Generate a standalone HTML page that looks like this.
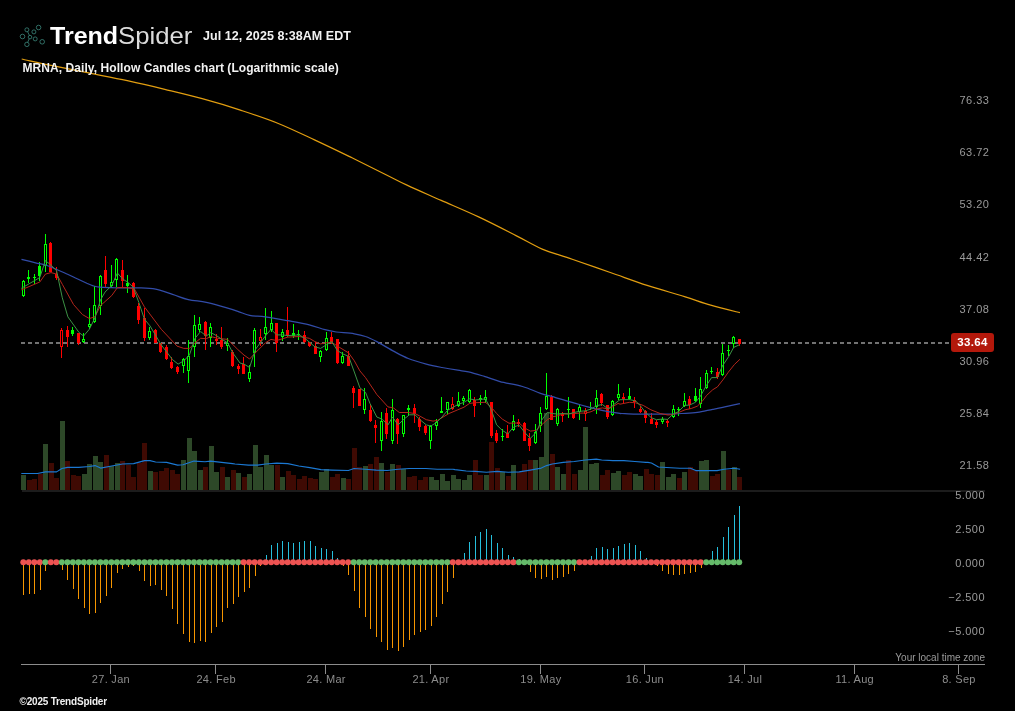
<!DOCTYPE html>
<html><head><meta charset="utf-8"><title>MRNA chart</title>
<style>
html,body{margin:0;padding:0;background:#000;}
body{width:1015px;height:711px;position:relative;overflow:hidden;font-family:"Liberation Sans",sans-serif;}
svg{position:absolute;left:0;top:0;}
.t{position:absolute;white-space:nowrap;line-height:14px;}
.pl{position:absolute;left:959.5px;width:40px;height:14px;line-height:14px;font-size:11px;letter-spacing:0.45px;color:#9a9a9a;white-space:nowrap;}
.il{position:absolute;right:30px;width:60px;text-align:right;height:14px;line-height:14px;font-size:11px;letter-spacing:0.45px;color:#9a9a9a;white-space:nowrap;}
.xl{position:absolute;top:671.5px;width:80px;text-align:center;height:14px;line-height:14px;font-size:11px;letter-spacing:0.3px;color:#8c8c8c;white-space:nowrap;}
#trend{left:50.2px;top:21px;font-size:23.4px;line-height:30px;color:#fff;font-weight:bold;transform-origin:0 50%;transform:scaleX(1.07);}
#spider{left:117.5px;top:21px;font-size:23.4px;line-height:30px;color:#dcdcdc;transform-origin:0 50%;transform:scaleX(1.1);}
#date{left:203px;top:28.5px;font-size:12.5px;letter-spacing:0.06px;font-weight:bold;color:#f2f2f2;}
#title{left:22.5px;top:61px;font-size:12px;letter-spacing:0.07px;font-weight:bold;color:#f2f2f2;}
#tz{right:30px;top:650.5px;font-size:10px;color:#9a9a9a;}
#copy{left:19.5px;top:694.5px;font-size:10px;letter-spacing:-0.2px;font-weight:bold;color:#f0f0f0;}
#last{position:absolute;left:951px;top:333px;width:43px;height:19px;border-radius:3px;background:#b3180b;color:#fff;font-weight:bold;font-size:11.5px;line-height:19px;text-align:center;letter-spacing:0.3px;}
</style></head>
<body>
<svg width="1015" height="711" viewBox="0 0 1015 711">
<g shape-rendering="crispEdges">
<rect x="21" y="475" width="5" height="15" fill="#2d4828"/>
<rect x="27" y="480" width="5" height="10" fill="#3f0a03"/>
<rect x="32" y="479" width="5" height="11" fill="#3f0a03"/>
<rect x="38" y="474" width="5" height="16" fill="#3f0a03"/>
<rect x="43" y="444" width="5" height="46" fill="#2d4828"/>
<rect x="49" y="463" width="5" height="27" fill="#3f0a03"/>
<rect x="54" y="478" width="5" height="12" fill="#3f0a03"/>
<rect x="60" y="421" width="5" height="69" fill="#2d4828"/>
<rect x="65" y="461" width="5" height="29" fill="#3f0a03"/>
<rect x="71" y="475" width="5" height="15" fill="#3f0a03"/>
<rect x="76" y="476" width="5" height="14" fill="#3f0a03"/>
<rect x="82" y="474" width="5" height="16" fill="#2d4828"/>
<rect x="87" y="464" width="5" height="26" fill="#2d4828"/>
<rect x="93" y="456" width="5" height="34" fill="#2d4828"/>
<rect x="98" y="462" width="5" height="28" fill="#2d4828"/>
<rect x="104" y="455" width="5" height="35" fill="#3f0a03"/>
<rect x="109" y="466" width="5" height="24" fill="#2d4828"/>
<rect x="115" y="463" width="5" height="27" fill="#2d4828"/>
<rect x="120" y="461" width="5" height="29" fill="#3f0a03"/>
<rect x="126" y="465" width="5" height="25" fill="#3f0a03"/>
<rect x="131" y="477" width="5" height="13" fill="#3f0a03"/>
<rect x="137" y="463" width="5" height="27" fill="#3f0a03"/>
<rect x="142" y="443" width="5" height="47" fill="#3f0a03"/>
<rect x="148" y="471" width="5" height="19" fill="#2d4828"/>
<rect x="153" y="472" width="5" height="18" fill="#3f0a03"/>
<rect x="159" y="471" width="5" height="19" fill="#3f0a03"/>
<rect x="164" y="468" width="5" height="22" fill="#3f0a03"/>
<rect x="170" y="470" width="5" height="20" fill="#3f0a03"/>
<rect x="175" y="474" width="5" height="16" fill="#3f0a03"/>
<rect x="181" y="460" width="5" height="30" fill="#2d4828"/>
<rect x="187" y="438" width="5" height="52" fill="#2d4828"/>
<rect x="192" y="451" width="5" height="39" fill="#2d4828"/>
<rect x="198" y="470" width="5" height="20" fill="#2d4828"/>
<rect x="203" y="467" width="5" height="23" fill="#3f0a03"/>
<rect x="209" y="446" width="5" height="44" fill="#2d4828"/>
<rect x="214" y="472" width="5" height="18" fill="#2d4828"/>
<rect x="220" y="467" width="5" height="23" fill="#3f0a03"/>
<rect x="225" y="477" width="5" height="13" fill="#2d4828"/>
<rect x="231" y="470" width="5" height="20" fill="#3f0a03"/>
<rect x="236" y="473" width="5" height="17" fill="#2d4828"/>
<rect x="242" y="477" width="5" height="13" fill="#3f0a03"/>
<rect x="247" y="474" width="5" height="16" fill="#2d4828"/>
<rect x="253" y="445" width="5" height="45" fill="#2d4828"/>
<rect x="258" y="467" width="5" height="23" fill="#2d4828"/>
<rect x="264" y="455" width="5" height="35" fill="#2d4828"/>
<rect x="269" y="465" width="5" height="25" fill="#2d4828"/>
<rect x="275" y="465" width="5" height="25" fill="#3f0a03"/>
<rect x="280" y="477" width="5" height="13" fill="#2d4828"/>
<rect x="286" y="471" width="5" height="19" fill="#3f0a03"/>
<rect x="291" y="475" width="5" height="15" fill="#3f0a03"/>
<rect x="297" y="479" width="5" height="11" fill="#3f0a03"/>
<rect x="302" y="476" width="5" height="14" fill="#3f0a03"/>
<rect x="308" y="478" width="5" height="12" fill="#3f0a03"/>
<rect x="313" y="479" width="5" height="11" fill="#3f0a03"/>
<rect x="319" y="472" width="5" height="18" fill="#2d4828"/>
<rect x="324" y="469" width="5" height="21" fill="#2d4828"/>
<rect x="330" y="477" width="5" height="13" fill="#3f0a03"/>
<rect x="335" y="474" width="5" height="16" fill="#3f0a03"/>
<rect x="341" y="478" width="5" height="12" fill="#2d4828"/>
<rect x="346" y="479" width="5" height="11" fill="#3f0a03"/>
<rect x="352" y="448" width="5" height="42" fill="#3f0a03"/>
<rect x="357" y="467" width="5" height="23" fill="#3f0a03"/>
<rect x="363" y="466" width="5" height="24" fill="#2d4828"/>
<rect x="368" y="464" width="5" height="26" fill="#3f0a03"/>
<rect x="374" y="457" width="5" height="33" fill="#3f0a03"/>
<rect x="379" y="463" width="5" height="27" fill="#2d4828"/>
<rect x="385" y="472" width="5" height="18" fill="#3f0a03"/>
<rect x="390" y="464" width="5" height="26" fill="#2d4828"/>
<rect x="396" y="465" width="5" height="25" fill="#3f0a03"/>
<rect x="401" y="469" width="5" height="21" fill="#2d4828"/>
<rect x="407" y="477" width="5" height="13" fill="#3f0a03"/>
<rect x="412" y="476" width="5" height="14" fill="#3f0a03"/>
<rect x="418" y="480" width="5" height="10" fill="#3f0a03"/>
<rect x="423" y="477" width="5" height="13" fill="#3f0a03"/>
<rect x="429" y="477" width="5" height="13" fill="#2d4828"/>
<rect x="434" y="480" width="5" height="10" fill="#2d4828"/>
<rect x="440" y="474" width="5" height="16" fill="#2d4828"/>
<rect x="445" y="481" width="5" height="9" fill="#2d4828"/>
<rect x="451" y="475" width="5" height="15" fill="#2d4828"/>
<rect x="456" y="479" width="5" height="11" fill="#2d4828"/>
<rect x="462" y="480" width="5" height="10" fill="#2d4828"/>
<rect x="467" y="475" width="5" height="15" fill="#2d4828"/>
<rect x="473" y="460" width="5" height="30" fill="#3f0a03"/>
<rect x="478" y="475" width="5" height="15" fill="#3f0a03"/>
<rect x="484" y="475" width="5" height="15" fill="#2d4828"/>
<rect x="489" y="442" width="5" height="48" fill="#3f0a03"/>
<rect x="495" y="468" width="5" height="22" fill="#3f0a03"/>
<rect x="500" y="472" width="5" height="18" fill="#2d4828"/>
<rect x="506" y="476" width="5" height="14" fill="#3f0a03"/>
<rect x="511" y="465" width="5" height="25" fill="#2d4828"/>
<rect x="517" y="472" width="5" height="18" fill="#3f0a03"/>
<rect x="522" y="464" width="5" height="26" fill="#3f0a03"/>
<rect x="528" y="460" width="5" height="30" fill="#3f0a03"/>
<rect x="533" y="460" width="5" height="30" fill="#2d4828"/>
<rect x="539" y="457" width="5" height="33" fill="#2d4828"/>
<rect x="544" y="413" width="5" height="77" fill="#2d4828"/>
<rect x="550" y="454" width="5" height="36" fill="#3f0a03"/>
<rect x="555" y="467" width="5" height="23" fill="#2d4828"/>
<rect x="561" y="474" width="5" height="16" fill="#2d4828"/>
<rect x="566" y="460" width="5" height="30" fill="#3f0a03"/>
<rect x="572" y="474" width="5" height="16" fill="#3f0a03"/>
<rect x="578" y="470" width="5" height="20" fill="#2d4828"/>
<rect x="583" y="427" width="5" height="63" fill="#2d4828"/>
<rect x="589" y="464" width="5" height="26" fill="#2d4828"/>
<rect x="594" y="463" width="5" height="27" fill="#2d4828"/>
<rect x="600" y="475" width="5" height="15" fill="#3f0a03"/>
<rect x="605" y="470" width="5" height="20" fill="#3f0a03"/>
<rect x="611" y="473" width="5" height="17" fill="#2d4828"/>
<rect x="616" y="471" width="5" height="19" fill="#2d4828"/>
<rect x="622" y="475" width="5" height="15" fill="#3f0a03"/>
<rect x="627" y="472" width="5" height="18" fill="#3f0a03"/>
<rect x="633" y="474" width="5" height="16" fill="#2d4828"/>
<rect x="638" y="476" width="5" height="14" fill="#2d4828"/>
<rect x="644" y="469" width="5" height="21" fill="#3f0a03"/>
<rect x="649" y="474" width="5" height="16" fill="#3f0a03"/>
<rect x="655" y="475" width="5" height="15" fill="#3f0a03"/>
<rect x="660" y="462" width="5" height="28" fill="#2d4828"/>
<rect x="666" y="477" width="5" height="13" fill="#2d4828"/>
<rect x="671" y="474" width="5" height="16" fill="#2d4828"/>
<rect x="677" y="478" width="5" height="12" fill="#3f0a03"/>
<rect x="682" y="472" width="5" height="18" fill="#2d4828"/>
<rect x="688" y="467" width="5" height="23" fill="#3f0a03"/>
<rect x="693" y="470" width="5" height="20" fill="#3f0a03"/>
<rect x="699" y="461" width="5" height="29" fill="#2d4828"/>
<rect x="704" y="460" width="5" height="30" fill="#2d4828"/>
<rect x="710" y="476" width="5" height="14" fill="#3f0a03"/>
<rect x="715" y="474" width="5" height="16" fill="#3f0a03"/>
<rect x="721" y="451" width="5" height="39" fill="#2d4828"/>
<rect x="726" y="470" width="5" height="20" fill="#3f0a03"/>
<rect x="732" y="467" width="5" height="23" fill="#2d4828"/>
<rect x="737" y="477" width="5" height="13" fill="#3f0a03"/>
</g>
<rect x="22" y="490" width="963" height="2" fill="#1c1c1c"/>
<path d="M21.3,473.5 L37.5,473.5 L45.5,471.9 L56.6,471.9 L61.9,468.5 L67.6,467.4 L78.6,467.4 L89.6,466.5 L95.0,465.6 L100.6,468.1 L111.6,466.0 L122.6,464.0 L133.6,463.6 L144.6,460.6 L150.0,460.6 L155.6,462.0 L166.6,462.4 L177.6,465.1 L183.0,464.7 L194.0,461.1 L205.0,461.8 L210.6,461.1 L221.6,462.4 L232.7,463.6 L235.0,464.0 L248.5,465.1 L257.5,465.1 L265.8,464.0 L276.8,463.1 L287.8,463.6 L298.8,466.0 L309.8,467.6 L321.0,469.6 L332.0,470.1 L348.4,470.5 L354.0,468.5 L365.1,469.2 L376.1,470.1 L387.1,470.5 L398.1,469.2 L409.1,468.5 L425.9,468.5 L437.2,469.2 L453.1,469.2 L455.0,469.6 L466.2,471.0 L475.2,471.4 L486.4,472.3 L497.2,471.4 L508.2,472.3 L519.2,471.9 L530.2,470.1 L541.3,468.1 L546.6,465.6 L552.3,464.0 L563.3,462.4 L574.3,461.5 L585.3,460.0 L596.3,459.1 L601.7,460.0 L612.9,460.6 L623.9,460.6 L634.9,461.5 L645.9,462.4 L647.9,462.4 L651.4,463.0 L658.5,467.0 L670.9,467.7 L679.8,468.3 L690.4,468.3 L695.8,470.6 L706.4,470.6 L717.0,470.6 L724.1,469.2 L734.1,468.3 L740.1,469.2" fill="none" stroke="#1b78d2" stroke-width="1.1" stroke-linejoin="round"/>
<path d="M21,343 H949" stroke="#727272" stroke-width="2" stroke-dasharray="4 3" fill="none" shape-rendering="crispEdges"/>
<path d="M21.7,59.0 C26.9,60.1 41.1,63.4 52.4,65.7 C63.8,68.1 77.4,70.7 89.9,73.2 C102.4,75.7 114.8,78.0 127.3,80.7 C139.8,83.4 152.3,86.3 164.8,89.3 C177.2,92.3 189.7,95.2 202.2,98.7 C214.7,102.1 227.2,105.8 239.6,109.9 C252.1,114.0 264.6,118.0 277.1,123.0 C289.6,128.0 302.0,134.1 314.5,139.9 C327.0,145.7 340.2,152.1 352.0,157.8 C363.7,163.5 375.7,169.6 385.0,174.2 C394.3,178.8 398.1,181.0 407.5,185.4 C416.8,189.8 429.3,195.1 441.2,200.4 C453.0,205.6 466.1,211.0 478.6,216.9 C491.1,222.7 505.4,230.2 516.0,235.6 C526.6,240.9 532.9,245.1 542.2,249.1 C551.6,253.0 561.0,255.3 572.2,259.2 C583.4,263.0 597.2,267.9 609.6,272.3 C622.1,276.6 634.6,281.3 647.1,285.4 C659.6,289.4 673.9,293.3 684.5,296.6 C695.1,299.9 701.5,302.5 710.7,305.2 C720.0,307.9 735.1,311.5 739.9,312.7" fill="none" stroke="#e29e10" stroke-width="1.2" stroke-linejoin="round"/>
<g shape-rendering="crispEdges">
<rect x="23" y="280" width="1" height="1" fill="#00ff00"/>
<rect x="23" y="296" width="1" height="1" fill="#00ff00"/>
<rect x="22.5" y="281.5" width="2" height="14" fill="none" stroke="#00ff00" stroke-width="1"/>
<rect x="28" y="270" width="1" height="13" fill="#00ff00"/>
<rect x="27" y="277" width="3" height="2" fill="#00ff00"/>
<rect x="34" y="274" width="1" height="10" fill="#00ff00"/>
<rect x="33" y="277" width="3" height="1" fill="#00ff00"/>
<rect x="39" y="262" width="1" height="19" fill="#00ff00"/>
<rect x="38" y="266" width="3" height="10" fill="#00ff00"/>
<rect x="45" y="234" width="1" height="10" fill="#00ff00"/>
<rect x="45" y="266" width="1" height="6" fill="#00ff00"/>
<rect x="44.5" y="244.5" width="2" height="21" fill="none" stroke="#00ff00" stroke-width="1"/>
<rect x="50" y="242" width="1" height="30" fill="#ff0000"/>
<rect x="49" y="243" width="3" height="29" fill="#ff0000"/>
<rect x="56" y="267" width="1" height="13" fill="#ff0000"/>
<rect x="55" y="274" width="3" height="4" fill="#ff0000"/>
<rect x="61" y="328" width="1" height="2" fill="#ff0000"/>
<rect x="61" y="347" width="1" height="11" fill="#ff0000"/>
<rect x="60.5" y="330.5" width="2" height="16" fill="none" stroke="#ff0000" stroke-width="1"/>
<rect x="67" y="326" width="1" height="21" fill="#ff0000"/>
<rect x="66" y="330" width="3" height="7" fill="#ff0000"/>
<rect x="72" y="327" width="1" height="9" fill="#00ff00"/>
<rect x="71" y="330" width="3" height="4" fill="#00ff00"/>
<rect x="78" y="333" width="1" height="12" fill="#ff0000"/>
<rect x="77" y="333" width="3" height="10" fill="#ff0000"/>
<rect x="83" y="333" width="1" height="6" fill="#00ff00"/>
<rect x="83" y="342" width="1" height="1" fill="#00ff00"/>
<rect x="82.5" y="339.5" width="2" height="2" fill="none" stroke="#00ff00" stroke-width="1"/>
<rect x="89" y="308" width="1" height="16" fill="#00ff00"/>
<rect x="89" y="327" width="1" height="2" fill="#00ff00"/>
<rect x="88.5" y="324.5" width="2" height="2" fill="none" stroke="#00ff00" stroke-width="1"/>
<rect x="94" y="286" width="1" height="19" fill="#00ff00"/>
<rect x="94" y="322" width="1" height="1" fill="#00ff00"/>
<rect x="93.5" y="305.5" width="2" height="16" fill="none" stroke="#00ff00" stroke-width="1"/>
<rect x="100" y="275" width="1" height="1" fill="#00ff00"/>
<rect x="100" y="306" width="1" height="9" fill="#00ff00"/>
<rect x="99.5" y="276.5" width="2" height="29" fill="none" stroke="#00ff00" stroke-width="1"/>
<rect x="105" y="256" width="1" height="31" fill="#ff0000"/>
<rect x="104" y="270" width="3" height="14" fill="#ff0000"/>
<rect x="111" y="265" width="1" height="17" fill="#00ff00"/>
<rect x="111" y="286" width="1" height="2" fill="#00ff00"/>
<rect x="110.5" y="282.5" width="2" height="3" fill="none" stroke="#00ff00" stroke-width="1"/>
<rect x="116" y="258" width="1" height="1" fill="#00ff00"/>
<rect x="116" y="280" width="1" height="7" fill="#00ff00"/>
<rect x="115.5" y="259.5" width="2" height="20" fill="none" stroke="#00ff00" stroke-width="1"/>
<rect x="122" y="260" width="1" height="27" fill="#ff0000"/>
<rect x="121" y="270" width="3" height="11" fill="#ff0000"/>
<rect x="127" y="275" width="1" height="18" fill="#00ff00"/>
<rect x="126" y="283" width="3" height="3" fill="#00ff00"/>
<rect x="133" y="282" width="1" height="16" fill="#ff0000"/>
<rect x="132" y="283" width="3" height="14" fill="#ff0000"/>
<rect x="138" y="303" width="1" height="21" fill="#ff0000"/>
<rect x="137" y="306" width="3" height="14" fill="#ff0000"/>
<rect x="144" y="308" width="1" height="33" fill="#ff0000"/>
<rect x="143" y="318" width="3" height="20" fill="#ff0000"/>
<rect x="149" y="327" width="1" height="4" fill="#00ff00"/>
<rect x="149" y="338" width="1" height="2" fill="#00ff00"/>
<rect x="148.5" y="331.5" width="2" height="6" fill="none" stroke="#00ff00" stroke-width="1"/>
<rect x="155" y="329" width="1" height="14" fill="#ff0000"/>
<rect x="154" y="330" width="3" height="13" fill="#ff0000"/>
<rect x="160" y="343" width="1" height="10" fill="#ff0000"/>
<rect x="159" y="343" width="3" height="9" fill="#ff0000"/>
<rect x="166" y="345" width="1" height="15" fill="#ff0000"/>
<rect x="165" y="347" width="3" height="12" fill="#ff0000"/>
<rect x="171" y="357" width="1" height="12" fill="#ff0000"/>
<rect x="170" y="362" width="3" height="6" fill="#ff0000"/>
<rect x="177" y="366" width="1" height="8" fill="#ff0000"/>
<rect x="176" y="367" width="3" height="5" fill="#ff0000"/>
<rect x="183" y="358" width="1" height="1" fill="#00ff00"/>
<rect x="183" y="366" width="1" height="7" fill="#00ff00"/>
<rect x="182.5" y="359.5" width="2" height="6" fill="none" stroke="#00ff00" stroke-width="1"/>
<rect x="188" y="340" width="1" height="16" fill="#00ff00"/>
<rect x="188" y="371" width="1" height="12" fill="#00ff00"/>
<rect x="187.5" y="356.5" width="2" height="14" fill="none" stroke="#00ff00" stroke-width="1"/>
<rect x="194" y="315" width="1" height="10" fill="#00ff00"/>
<rect x="194" y="347" width="1" height="10" fill="#00ff00"/>
<rect x="193.5" y="325.5" width="2" height="21" fill="none" stroke="#00ff00" stroke-width="1"/>
<rect x="199" y="317" width="1" height="7" fill="#00ff00"/>
<rect x="199" y="330" width="1" height="2" fill="#00ff00"/>
<rect x="198.5" y="324.5" width="2" height="5" fill="none" stroke="#00ff00" stroke-width="1"/>
<rect x="205" y="321" width="1" height="29" fill="#ff0000"/>
<rect x="204" y="322" width="3" height="14" fill="#ff0000"/>
<rect x="210" y="323" width="1" height="4" fill="#00ff00"/>
<rect x="210" y="338" width="1" height="9" fill="#00ff00"/>
<rect x="209.5" y="327.5" width="2" height="10" fill="none" stroke="#00ff00" stroke-width="1"/>
<rect x="216" y="334" width="1" height="11" fill="#ff0000"/>
<rect x="215" y="339" width="3" height="2" fill="#ff0000"/>
<rect x="221" y="327" width="1" height="22" fill="#ff0000"/>
<rect x="220" y="340" width="3" height="7" fill="#ff0000"/>
<rect x="227" y="338" width="1" height="5" fill="#00ff00"/>
<rect x="227" y="346" width="1" height="5" fill="#00ff00"/>
<rect x="226.5" y="343.5" width="2" height="2" fill="none" stroke="#00ff00" stroke-width="1"/>
<rect x="232" y="350" width="1" height="17" fill="#ff0000"/>
<rect x="231" y="352" width="3" height="14" fill="#ff0000"/>
<rect x="238" y="364" width="1" height="10" fill="#ff0000"/>
<rect x="237" y="366" width="3" height="3" fill="#ff0000"/>
<rect x="243" y="357" width="1" height="17" fill="#ff0000"/>
<rect x="242" y="364" width="3" height="10" fill="#ff0000"/>
<rect x="249" y="365" width="1" height="7" fill="#00ff00"/>
<rect x="249" y="379" width="1" height="3" fill="#00ff00"/>
<rect x="248.5" y="372.5" width="2" height="6" fill="none" stroke="#00ff00" stroke-width="1"/>
<rect x="254" y="328" width="1" height="2" fill="#00ff00"/>
<rect x="254" y="353" width="1" height="14" fill="#00ff00"/>
<rect x="253.5" y="330.5" width="2" height="22" fill="none" stroke="#00ff00" stroke-width="1"/>
<rect x="260" y="329" width="1" height="8" fill="#ff0000"/>
<rect x="260" y="341" width="1" height="5" fill="#ff0000"/>
<rect x="259.5" y="337.5" width="2" height="3" fill="none" stroke="#ff0000" stroke-width="1"/>
<rect x="265" y="308" width="1" height="19" fill="#00ff00"/>
<rect x="265" y="334" width="1" height="6" fill="#00ff00"/>
<rect x="264.5" y="327.5" width="2" height="6" fill="none" stroke="#00ff00" stroke-width="1"/>
<rect x="271" y="311" width="1" height="12" fill="#00ff00"/>
<rect x="271" y="330" width="1" height="2" fill="#00ff00"/>
<rect x="270.5" y="323.5" width="2" height="6" fill="none" stroke="#00ff00" stroke-width="1"/>
<rect x="276" y="323" width="1" height="29" fill="#ff0000"/>
<rect x="275" y="323" width="3" height="20" fill="#ff0000"/>
<rect x="282" y="329" width="1" height="3" fill="#00ff00"/>
<rect x="282" y="337" width="1" height="4" fill="#00ff00"/>
<rect x="281.5" y="332.5" width="2" height="4" fill="none" stroke="#00ff00" stroke-width="1"/>
<rect x="287" y="307" width="1" height="30" fill="#ff0000"/>
<rect x="286" y="330" width="3" height="6" fill="#ff0000"/>
<rect x="293" y="324" width="1" height="14" fill="#00ff00"/>
<rect x="292" y="333" width="3" height="3" fill="#00ff00"/>
<rect x="298" y="330" width="1" height="10" fill="#00ff00"/>
<rect x="297" y="334" width="3" height="1" fill="#00ff00"/>
<rect x="304" y="331" width="1" height="12" fill="#ff0000"/>
<rect x="303" y="335" width="3" height="7" fill="#ff0000"/>
<rect x="309" y="342" width="1" height="5" fill="#ff0000"/>
<rect x="308" y="342" width="3" height="4" fill="#ff0000"/>
<rect x="315" y="342" width="1" height="12" fill="#ff0000"/>
<rect x="314" y="346" width="3" height="8" fill="#ff0000"/>
<rect x="320" y="350" width="1" height="1" fill="#00ff00"/>
<rect x="320" y="357" width="1" height="5" fill="#00ff00"/>
<rect x="319.5" y="351.5" width="2" height="5" fill="none" stroke="#00ff00" stroke-width="1"/>
<rect x="326" y="332" width="1" height="6" fill="#00ff00"/>
<rect x="326" y="350" width="1" height="1" fill="#00ff00"/>
<rect x="325.5" y="338.5" width="2" height="11" fill="none" stroke="#00ff00" stroke-width="1"/>
<rect x="331" y="332" width="1" height="12" fill="#ff0000"/>
<rect x="330" y="337" width="3" height="6" fill="#ff0000"/>
<rect x="337" y="339" width="1" height="25" fill="#ff0000"/>
<rect x="336" y="339" width="3" height="24" fill="#ff0000"/>
<rect x="342" y="352" width="1" height="4" fill="#00ff00"/>
<rect x="342" y="363" width="1" height="1" fill="#00ff00"/>
<rect x="341.5" y="356.5" width="2" height="6" fill="none" stroke="#00ff00" stroke-width="1"/>
<rect x="348" y="351" width="1" height="15" fill="#ff0000"/>
<rect x="347" y="356" width="3" height="10" fill="#ff0000"/>
<rect x="353" y="386" width="1" height="22" fill="#ff0000"/>
<rect x="352" y="388" width="3" height="5" fill="#ff0000"/>
<rect x="359" y="389" width="1" height="17" fill="#ff0000"/>
<rect x="358" y="389" width="3" height="17" fill="#ff0000"/>
<rect x="364" y="388" width="1" height="11" fill="#00ff00"/>
<rect x="364" y="410" width="1" height="4" fill="#00ff00"/>
<rect x="363.5" y="399.5" width="2" height="10" fill="none" stroke="#00ff00" stroke-width="1"/>
<rect x="370" y="404" width="1" height="18" fill="#ff0000"/>
<rect x="369" y="410" width="3" height="11" fill="#ff0000"/>
<rect x="375" y="420" width="1" height="23" fill="#ff0000"/>
<rect x="374" y="425" width="3" height="3" fill="#ff0000"/>
<rect x="381" y="412" width="1" height="9" fill="#00ff00"/>
<rect x="381" y="441" width="1" height="10" fill="#00ff00"/>
<rect x="380.5" y="421.5" width="2" height="19" fill="none" stroke="#00ff00" stroke-width="1"/>
<rect x="386" y="408" width="1" height="31" fill="#ff0000"/>
<rect x="385" y="413" width="3" height="21" fill="#ff0000"/>
<rect x="392" y="399" width="1" height="11" fill="#00ff00"/>
<rect x="392" y="441" width="1" height="3" fill="#00ff00"/>
<rect x="391.5" y="410.5" width="2" height="30" fill="none" stroke="#00ff00" stroke-width="1"/>
<rect x="397" y="418" width="1" height="26" fill="#ff0000"/>
<rect x="396" y="419" width="3" height="15" fill="#ff0000"/>
<rect x="403" y="434" width="1" height="3" fill="#00ff00"/>
<rect x="402.5" y="415.5" width="2" height="18" fill="none" stroke="#00ff00" stroke-width="1"/>
<rect x="408" y="405" width="1" height="10" fill="#00ff00"/>
<rect x="407" y="408" width="3" height="2" fill="#00ff00"/>
<rect x="414" y="404" width="1" height="19" fill="#ff0000"/>
<rect x="413" y="408" width="3" height="6" fill="#ff0000"/>
<rect x="419" y="417" width="1" height="14" fill="#ff0000"/>
<rect x="418" y="419" width="3" height="8" fill="#ff0000"/>
<rect x="425" y="425" width="1" height="10" fill="#ff0000"/>
<rect x="424" y="426" width="3" height="7" fill="#ff0000"/>
<rect x="430" y="425" width="1" height="1" fill="#00ff00"/>
<rect x="430" y="441" width="1" height="8" fill="#00ff00"/>
<rect x="429.5" y="426.5" width="2" height="14" fill="none" stroke="#00ff00" stroke-width="1"/>
<rect x="436" y="419" width="1" height="3" fill="#00ff00"/>
<rect x="436" y="426" width="1" height="4" fill="#00ff00"/>
<rect x="435.5" y="422.5" width="2" height="3" fill="none" stroke="#00ff00" stroke-width="1"/>
<rect x="441" y="397" width="1" height="16" fill="#00ff00"/>
<rect x="440" y="411" width="3" height="2" fill="#00ff00"/>
<rect x="447" y="410" width="1" height="4" fill="#00ff00"/>
<rect x="446.5" y="402.5" width="2" height="7" fill="none" stroke="#00ff00" stroke-width="1"/>
<rect x="452" y="397" width="1" height="7" fill="#ff0000"/>
<rect x="452" y="409" width="1" height="1" fill="#ff0000"/>
<rect x="451.5" y="404.5" width="2" height="4" fill="none" stroke="#ff0000" stroke-width="1"/>
<rect x="458" y="392" width="1" height="9" fill="#00ff00"/>
<rect x="458" y="406" width="1" height="1" fill="#00ff00"/>
<rect x="457.5" y="401.5" width="2" height="4" fill="none" stroke="#00ff00" stroke-width="1"/>
<rect x="463" y="396" width="1" height="2" fill="#00ff00"/>
<rect x="463" y="401" width="1" height="4" fill="#00ff00"/>
<rect x="462.5" y="398.5" width="2" height="2" fill="none" stroke="#00ff00" stroke-width="1"/>
<rect x="469" y="389" width="1" height="1" fill="#00ff00"/>
<rect x="469" y="402" width="1" height="1" fill="#00ff00"/>
<rect x="468.5" y="390.5" width="2" height="11" fill="none" stroke="#00ff00" stroke-width="1"/>
<rect x="474" y="397" width="1" height="20" fill="#ff0000"/>
<rect x="473" y="400" width="3" height="6" fill="#ff0000"/>
<rect x="480" y="395" width="1" height="10" fill="#00ff00"/>
<rect x="479" y="398" width="3" height="2" fill="#00ff00"/>
<rect x="485" y="390" width="1" height="7" fill="#00ff00"/>
<rect x="485" y="400" width="1" height="3" fill="#00ff00"/>
<rect x="484.5" y="397.5" width="2" height="2" fill="none" stroke="#00ff00" stroke-width="1"/>
<rect x="491" y="402" width="1" height="36" fill="#ff0000"/>
<rect x="490" y="402" width="3" height="34" fill="#ff0000"/>
<rect x="496" y="430" width="1" height="13" fill="#ff0000"/>
<rect x="495" y="433" width="3" height="8" fill="#ff0000"/>
<rect x="502" y="429" width="1" height="12" fill="#00ff00"/>
<rect x="501" y="436" width="3" height="1" fill="#00ff00"/>
<rect x="507" y="425" width="1" height="13" fill="#ff0000"/>
<rect x="506" y="433" width="3" height="5" fill="#ff0000"/>
<rect x="513" y="415" width="1" height="6" fill="#00ff00"/>
<rect x="513" y="430" width="1" height="1" fill="#00ff00"/>
<rect x="512.5" y="421.5" width="2" height="8" fill="none" stroke="#00ff00" stroke-width="1"/>
<rect x="518" y="419" width="1" height="8" fill="#ff0000"/>
<rect x="517" y="422" width="3" height="2" fill="#ff0000"/>
<rect x="524" y="422" width="1" height="19" fill="#ff0000"/>
<rect x="523" y="423" width="3" height="18" fill="#ff0000"/>
<rect x="529" y="433" width="1" height="18" fill="#ff0000"/>
<rect x="528" y="438" width="3" height="8" fill="#ff0000"/>
<rect x="535" y="424" width="1" height="8" fill="#00ff00"/>
<rect x="535" y="443" width="1" height="1" fill="#00ff00"/>
<rect x="534.5" y="432.5" width="2" height="10" fill="none" stroke="#00ff00" stroke-width="1"/>
<rect x="540" y="407" width="1" height="6" fill="#00ff00"/>
<rect x="540" y="426" width="1" height="6" fill="#00ff00"/>
<rect x="539.5" y="413.5" width="2" height="12" fill="none" stroke="#00ff00" stroke-width="1"/>
<rect x="546" y="373" width="1" height="23" fill="#00ff00"/>
<rect x="546" y="409" width="1" height="1" fill="#00ff00"/>
<rect x="545.5" y="396.5" width="2" height="12" fill="none" stroke="#00ff00" stroke-width="1"/>
<rect x="551" y="395" width="1" height="25" fill="#ff0000"/>
<rect x="550" y="397" width="3" height="23" fill="#ff0000"/>
<rect x="557" y="408" width="1" height="1" fill="#00ff00"/>
<rect x="557" y="424" width="1" height="2" fill="#00ff00"/>
<rect x="556.5" y="409.5" width="2" height="14" fill="none" stroke="#00ff00" stroke-width="1"/>
<rect x="562" y="412" width="1" height="10" fill="#ff0000"/>
<rect x="561" y="414" width="3" height="2" fill="#ff0000"/>
<rect x="568" y="397" width="1" height="21" fill="#00ff00"/>
<rect x="567" y="409" width="3" height="1" fill="#00ff00"/>
<rect x="573" y="409" width="1" height="10" fill="#ff0000"/>
<rect x="572" y="409" width="3" height="9" fill="#ff0000"/>
<rect x="579" y="405" width="1" height="2" fill="#00ff00"/>
<rect x="579" y="412" width="1" height="8" fill="#00ff00"/>
<rect x="578.5" y="407.5" width="2" height="4" fill="none" stroke="#00ff00" stroke-width="1"/>
<rect x="585" y="408" width="1" height="3" fill="#ff0000"/>
<rect x="585" y="414" width="1" height="7" fill="#ff0000"/>
<rect x="584.5" y="411.5" width="2" height="2" fill="none" stroke="#ff0000" stroke-width="1"/>
<rect x="590" y="402" width="1" height="8" fill="#00ff00"/>
<rect x="589" y="407" width="3" height="1" fill="#00ff00"/>
<rect x="596" y="390" width="1" height="8" fill="#00ff00"/>
<rect x="596" y="407" width="1" height="7" fill="#00ff00"/>
<rect x="595.5" y="398.5" width="2" height="8" fill="none" stroke="#00ff00" stroke-width="1"/>
<rect x="601" y="393" width="1" height="13" fill="#ff0000"/>
<rect x="600" y="394" width="3" height="9" fill="#ff0000"/>
<rect x="607" y="405" width="1" height="14" fill="#ff0000"/>
<rect x="606" y="405" width="3" height="12" fill="#ff0000"/>
<rect x="612" y="400" width="1" height="1" fill="#00ff00"/>
<rect x="612" y="415" width="1" height="1" fill="#00ff00"/>
<rect x="611.5" y="401.5" width="2" height="13" fill="none" stroke="#00ff00" stroke-width="1"/>
<rect x="618" y="384" width="1" height="10" fill="#00ff00"/>
<rect x="618" y="398" width="1" height="2" fill="#00ff00"/>
<rect x="617.5" y="394.5" width="2" height="3" fill="none" stroke="#00ff00" stroke-width="1"/>
<rect x="623" y="393" width="1" height="10" fill="#ff0000"/>
<rect x="622" y="397" width="3" height="2" fill="#ff0000"/>
<rect x="629" y="388" width="1" height="12" fill="#00ff00"/>
<rect x="628" y="396" width="3" height="3" fill="#00ff00"/>
<rect x="634" y="397" width="1" height="11" fill="#ff0000"/>
<rect x="633" y="400" width="3" height="2" fill="#ff0000"/>
<rect x="640" y="406" width="1" height="7" fill="#ff0000"/>
<rect x="639" y="409" width="3" height="3" fill="#ff0000"/>
<rect x="645" y="410" width="1" height="13" fill="#ff0000"/>
<rect x="644" y="411" width="3" height="7" fill="#ff0000"/>
<rect x="651" y="413" width="1" height="11" fill="#ff0000"/>
<rect x="650" y="419" width="3" height="5" fill="#ff0000"/>
<rect x="656" y="420" width="1" height="8" fill="#ff0000"/>
<rect x="655" y="422" width="3" height="3" fill="#ff0000"/>
<rect x="662" y="417" width="1" height="2" fill="#00ff00"/>
<rect x="662" y="422" width="1" height="2" fill="#00ff00"/>
<rect x="661.5" y="419.5" width="2" height="2" fill="none" stroke="#00ff00" stroke-width="1"/>
<rect x="667" y="419" width="1" height="8" fill="#ff0000"/>
<rect x="666" y="421" width="3" height="2" fill="#ff0000"/>
<rect x="673" y="405" width="1" height="4" fill="#00ff00"/>
<rect x="673" y="417" width="1" height="1" fill="#00ff00"/>
<rect x="672.5" y="409.5" width="2" height="7" fill="none" stroke="#00ff00" stroke-width="1"/>
<rect x="678" y="407" width="1" height="9" fill="#00ff00"/>
<rect x="677" y="409" width="3" height="1" fill="#00ff00"/>
<rect x="684" y="393" width="1" height="8" fill="#00ff00"/>
<rect x="684" y="406" width="1" height="1" fill="#00ff00"/>
<rect x="683.5" y="401.5" width="2" height="4" fill="none" stroke="#00ff00" stroke-width="1"/>
<rect x="689" y="396" width="1" height="13" fill="#ff0000"/>
<rect x="688" y="399" width="3" height="6" fill="#ff0000"/>
<rect x="695" y="388" width="1" height="14" fill="#00ff00"/>
<rect x="694" y="396" width="3" height="5" fill="#00ff00"/>
<rect x="700" y="377" width="1" height="12" fill="#00ff00"/>
<rect x="700" y="404" width="1" height="4" fill="#00ff00"/>
<rect x="699.5" y="389.5" width="2" height="14" fill="none" stroke="#00ff00" stroke-width="1"/>
<rect x="706" y="370" width="1" height="3" fill="#00ff00"/>
<rect x="706" y="388" width="1" height="1" fill="#00ff00"/>
<rect x="705.5" y="373.5" width="2" height="14" fill="none" stroke="#00ff00" stroke-width="1"/>
<rect x="711" y="367" width="1" height="7" fill="#00ff00"/>
<rect x="710" y="371" width="3" height="1" fill="#00ff00"/>
<rect x="717" y="368" width="1" height="11" fill="#ff0000"/>
<rect x="716" y="372" width="3" height="5" fill="#ff0000"/>
<rect x="722" y="344" width="1" height="9" fill="#00ff00"/>
<rect x="722" y="375" width="1" height="1" fill="#00ff00"/>
<rect x="721.5" y="353.5" width="2" height="21" fill="none" stroke="#00ff00" stroke-width="1"/>
<rect x="728" y="345" width="1" height="11" fill="#00ff00"/>
<rect x="727" y="350" width="3" height="1" fill="#00ff00"/>
<rect x="733" y="336" width="1" height="1" fill="#00ff00"/>
<rect x="733" y="344" width="1" height="4" fill="#00ff00"/>
<rect x="732.5" y="337.5" width="2" height="6" fill="none" stroke="#00ff00" stroke-width="1"/>
<rect x="739" y="339" width="1" height="7" fill="#ff0000"/>
<rect x="738" y="339" width="3" height="5" fill="#ff0000"/>
</g>
<path d="M21.5,259.3 C23.9,259.9 31.1,261.7 35.6,262.8 C40.1,263.9 43.1,264.1 48.4,266.0 C53.7,267.9 62.9,272.2 67.6,274.3 C72.3,276.4 73.4,277.0 76.6,278.5 C79.8,280.0 84.1,282.0 86.8,283.3 C89.6,284.5 91.1,285.2 93.2,285.8 C95.4,286.5 96.4,286.9 99.6,287.2 C102.8,287.5 109.7,287.6 112.4,287.7 C115.2,287.8 111.9,287.8 116.3,287.9 C120.6,287.9 132.2,287.6 138.8,287.9 C145.3,288.1 150.0,288.1 155.6,289.2 C161.3,290.3 167.1,292.7 172.5,294.4 C178.0,296.1 182.6,298.2 188.3,299.6 C193.9,300.9 200.3,301.0 206.3,302.3 C212.3,303.5 219.0,305.7 224.3,307.2 C229.5,308.7 233.5,309.9 237.8,311.3 C242.0,312.6 245.0,314.4 249.6,315.3 C254.2,316.2 259.0,316.0 265.4,316.9 C271.8,317.8 280.6,319.4 287.9,320.7 C295.2,322.0 303.1,323.3 309.3,324.8 C315.4,326.3 320.5,328.5 325.0,329.7 C329.5,330.9 331.4,331.3 336.3,332.0 C341.1,332.6 349.4,333.0 354.3,333.8 C359.1,334.5 361.8,335.1 365.5,336.5 C369.3,337.8 372.3,339.3 376.8,341.6 C381.3,344.0 387.3,347.8 392.5,350.6 C397.8,353.4 402.6,356.3 408.3,358.5 C413.9,360.8 420.6,362.6 426.3,364.1 C431.9,365.6 436.8,366.5 442.0,367.5 C447.3,368.5 453.4,369.5 457.8,370.2 C462.2,370.9 464.1,370.9 468.5,371.9 C472.9,372.9 479.0,374.8 484.3,376.4 C489.5,378.0 493.6,379.9 500.0,381.6 C506.4,383.2 515.8,384.6 522.5,386.5 C529.3,388.5 534.9,391.4 540.5,393.3 C546.1,395.1 551.8,396.4 556.3,397.8 C560.8,399.1 563.4,399.9 567.5,401.1 C571.6,402.3 576.5,403.7 581.0,405.0 C585.5,406.2 590.0,407.4 594.5,408.6 C599.0,409.7 603.8,410.9 608.0,411.7 C612.3,412.5 617.7,413.2 620.0,413.5 C622.3,413.8 618.9,413.4 621.5,413.5 C624.1,413.6 630.6,414.0 635.5,414.1 C640.4,414.2 645.8,414.1 650.9,414.1 C656.1,414.1 661.2,414.2 666.4,414.1 C671.6,414.0 676.7,413.8 681.9,413.5 C687.0,413.2 692.2,413.1 697.3,412.4 C702.5,411.7 707.7,410.3 712.8,409.3 C718.0,408.3 723.8,407.2 728.3,406.2 C732.8,405.3 737.9,404.0 739.9,403.6" fill="none" stroke="#324ca8" stroke-width="1.25" stroke-linejoin="round"/>
<path d="M21.3,289.9 L39.8,282.0 L45.4,274.1 L51.0,272.6 L56.6,274.1 L62.3,284.3 L73.5,304.5 L82.5,314.6 L89.3,318.5 L94.9,316.9 L100.5,305.6 L111.8,295.5 L117.4,287.6 L127.5,287.6 L134.3,288.8 L144.4,306.8 L161.3,329.3 L177.0,346.1 L183.8,348.4 L189.4,348.4 L195.0,342.8 L200.6,338.3 L206.3,338.7 L210.8,336.5 L217.5,338.3 L227.6,339.4 L237.8,349.5 L244.0,355.1 L249.6,359.0 L255.3,352.9 L265.4,342.8 L271.0,339.4 L276.6,340.5 L287.9,337.1 L299.1,336.5 L309.3,338.3 L314.9,341.6 L320.5,343.9 L326.1,342.8 L331.8,342.3 L337.4,346.1 L348.6,352.9 L354.3,360.8 L359.9,370.9 L365.5,377.6 L376.8,394.5 L388.0,406.9 L393.6,408.0 L399.3,412.5 L408.3,412.5 L415.0,413.6 L419.5,415.9 L426.3,419.7 L433.0,421.1 L437.5,420.4 L448.8,413.6 L457.8,409.8 L464.0,407.2 L469.6,403.4 L475.3,402.7 L485.4,402.3 L491.0,406.8 L496.6,413.5 L502.3,419.1 L509.0,423.2 L519.1,423.0 L524.8,428.1 L530.4,431.1 L536.0,430.4 L541.6,424.8 L547.3,419.8 L552.2,416.9 L557.4,415.8 L563.0,414.0 L574.3,413.5 L579.9,413.1 L585.5,413.1 L591.1,411.7 L596.8,409.0 L602.4,407.9 L608.0,409.0 L612.5,406.8 L618.1,403.4 L620.0,404.2 L629.3,402.3 L635.5,402.8 L643.2,405.4 L650.9,409.8 L660.2,413.5 L668.0,415.0 L673.4,414.4 L678.8,412.4 L685.0,409.8 L691.2,408.5 L697.3,406.2 L702.0,401.6 L706.6,395.4 L712.8,389.7 L717.4,386.9 L722.9,379.9 L728.3,372.2 L734.5,364.4 L739.9,359.3" fill="none" stroke="#b4251b" stroke-width="1.0" stroke-linejoin="round"/>
<path d="M21.3,288.3 L34.1,280.9 L39.8,277.5 L45.4,260.6 L51.0,265.1 L56.6,270.8 L62.3,297.8 L67.9,316.9 L79.1,332.6 L83.6,336.0 L89.3,329.3 L94.9,318.0 L100.5,300.0 L105.0,292.1 L111.8,285.4 L117.4,273.0 L123.0,279.3 L127.5,282.0 L133.1,287.0 L138.8,302.3 L144.4,319.1 L150.0,325.9 L161.3,345.0 L172.5,359.6 L178.1,364.1 L183.8,360.8 L189.4,355.1 L195.0,338.3 L200.6,331.5 L206.3,336.0 L210.8,332.6 L216.4,335.6 L222.0,339.4 L227.6,342.8 L232.8,352.9 L240.0,363.0 L244.0,364.1 L249.6,367.5 L255.3,349.5 L265.4,336.0 L271.0,329.3 L276.6,334.9 L282.3,334.9 L287.9,335.6 L299.1,334.9 L304.8,338.3 L314.9,346.8 L320.5,348.4 L326.1,345.0 L331.8,341.6 L337.4,350.6 L343.0,354.0 L348.6,356.3 L354.3,372.0 L359.9,387.8 L365.5,392.3 L370.0,403.5 L376.8,417.0 L382.4,419.3 L388.0,424.9 L392.5,417.0 L398.1,424.9 L403.8,419.3 L409.4,414.8 L415.0,414.8 L419.5,419.3 L426.3,424.9 L430.8,426.0 L436.4,422.6 L442.0,417.0 L447.6,410.3 L457.8,404.6 L464.0,402.3 L469.6,398.9 L475.3,400.0 L485.4,398.9 L491.0,409.0 L496.6,424.8 L502.3,430.4 L507.9,433.8 L513.5,427.0 L519.1,425.2 L524.8,432.6 L530.4,438.3 L536.0,432.6 L541.6,420.3 L547.3,412.4 L552.2,413.5 L557.4,414.0 L563.0,413.5 L568.6,414.0 L574.3,412.4 L579.9,411.3 L585.5,410.8 L591.1,409.0 L596.8,405.6 L602.4,404.5 L608.0,409.0 L612.5,405.6 L618.1,401.1 L620.0,399.7 L629.3,399.6 L635.5,400.8 L640.1,405.4 L645.5,412.4 L651.4,417.8 L656.5,419.7 L662.5,419.0 L667.5,419.4 L673.4,413.9 L678.5,411.6 L684.5,405.4 L689.5,405.1 L695.5,402.3 L700.4,396.2 L706.5,385.3 L711.6,377.6 L717.4,377.6 L722.4,366.0 L728.6,356.7 L733.7,347.4 L739.4,344.8" fill="none" stroke="#3c9245" stroke-width="1.0" stroke-linejoin="round"/>
<g shape-rendering="crispEdges">
<rect x="23" y="562" width="1" height="33" fill="#f59500"/>
<rect x="29" y="562" width="1" height="32" fill="#f59500"/>
<rect x="34" y="562" width="1" height="32" fill="#f59500"/>
<rect x="40" y="562" width="1" height="28" fill="#f59500"/>
<rect x="45" y="562" width="1" height="9" fill="#f59500"/>
<rect x="62" y="562" width="1" height="8" fill="#f59500"/>
<rect x="67" y="562" width="1" height="18" fill="#f59500"/>
<rect x="73" y="562" width="1" height="27" fill="#f59500"/>
<rect x="78" y="562" width="1" height="37" fill="#f59500"/>
<rect x="84" y="562" width="1" height="46" fill="#f59500"/>
<rect x="89" y="562" width="1" height="52" fill="#f59500"/>
<rect x="95" y="562" width="1" height="51" fill="#f59500"/>
<rect x="100" y="562" width="1" height="41" fill="#f59500"/>
<rect x="106" y="562" width="1" height="34" fill="#f59500"/>
<rect x="111" y="562" width="1" height="26" fill="#f59500"/>
<rect x="117" y="562" width="1" height="11" fill="#f59500"/>
<rect x="122" y="562" width="1" height="7" fill="#f59500"/>
<rect x="128" y="562" width="1" height="5" fill="#f59500"/>
<rect x="133" y="562" width="1" height="4" fill="#f59500"/>
<rect x="139" y="562" width="1" height="9" fill="#f59500"/>
<rect x="144" y="562" width="1" height="19" fill="#f59500"/>
<rect x="150" y="562" width="1" height="24" fill="#f59500"/>
<rect x="155" y="562" width="1" height="23" fill="#f59500"/>
<rect x="161" y="562" width="1" height="28" fill="#f59500"/>
<rect x="166" y="562" width="1" height="34" fill="#f59500"/>
<rect x="172" y="562" width="1" height="47" fill="#f59500"/>
<rect x="177" y="562" width="1" height="62" fill="#f59500"/>
<rect x="183" y="562" width="1" height="72" fill="#f59500"/>
<rect x="189" y="562" width="1" height="80" fill="#f59500"/>
<rect x="194" y="562" width="1" height="81" fill="#f59500"/>
<rect x="200" y="562" width="1" height="79" fill="#f59500"/>
<rect x="205" y="562" width="1" height="80" fill="#f59500"/>
<rect x="211" y="562" width="1" height="71" fill="#f59500"/>
<rect x="216" y="562" width="1" height="65" fill="#f59500"/>
<rect x="222" y="562" width="1" height="60" fill="#f59500"/>
<rect x="227" y="562" width="1" height="46" fill="#f59500"/>
<rect x="233" y="562" width="1" height="42" fill="#f59500"/>
<rect x="238" y="562" width="1" height="35" fill="#f59500"/>
<rect x="244" y="562" width="1" height="30" fill="#f59500"/>
<rect x="249" y="562" width="1" height="26" fill="#f59500"/>
<rect x="255" y="562" width="1" height="14" fill="#f59500"/>
<rect x="260" y="562" width="1" height="4" fill="#f59500"/>
<rect x="266" y="555" width="1" height="7" fill="#26bfdc"/>
<rect x="271" y="545" width="1" height="17" fill="#26bfdc"/>
<rect x="277" y="543" width="1" height="19" fill="#26bfdc"/>
<rect x="282" y="541" width="1" height="21" fill="#26bfdc"/>
<rect x="288" y="542" width="1" height="20" fill="#26bfdc"/>
<rect x="293" y="543" width="1" height="19" fill="#26bfdc"/>
<rect x="299" y="542" width="1" height="20" fill="#26bfdc"/>
<rect x="304" y="541" width="1" height="21" fill="#26bfdc"/>
<rect x="310" y="541" width="1" height="21" fill="#26bfdc"/>
<rect x="315" y="546" width="1" height="16" fill="#26bfdc"/>
<rect x="321" y="548" width="1" height="14" fill="#26bfdc"/>
<rect x="326" y="549" width="1" height="13" fill="#26bfdc"/>
<rect x="332" y="551" width="1" height="11" fill="#26bfdc"/>
<rect x="337" y="558" width="1" height="4" fill="#26bfdc"/>
<rect x="343" y="562" width="1" height="4" fill="#f59500"/>
<rect x="348" y="562" width="1" height="13" fill="#f59500"/>
<rect x="354" y="562" width="1" height="29" fill="#f59500"/>
<rect x="359" y="562" width="1" height="46" fill="#f59500"/>
<rect x="365" y="562" width="1" height="55" fill="#f59500"/>
<rect x="370" y="562" width="1" height="67" fill="#f59500"/>
<rect x="376" y="562" width="1" height="75" fill="#f59500"/>
<rect x="381" y="562" width="1" height="80" fill="#f59500"/>
<rect x="387" y="562" width="1" height="88" fill="#f59500"/>
<rect x="392" y="562" width="1" height="86" fill="#f59500"/>
<rect x="398" y="562" width="1" height="89" fill="#f59500"/>
<rect x="403" y="562" width="1" height="85" fill="#f59500"/>
<rect x="409" y="562" width="1" height="78" fill="#f59500"/>
<rect x="414" y="562" width="1" height="73" fill="#f59500"/>
<rect x="420" y="562" width="1" height="70" fill="#f59500"/>
<rect x="425" y="562" width="1" height="68" fill="#f59500"/>
<rect x="431" y="562" width="1" height="64" fill="#f59500"/>
<rect x="436" y="562" width="1" height="55" fill="#f59500"/>
<rect x="442" y="562" width="1" height="42" fill="#f59500"/>
<rect x="447" y="562" width="1" height="30" fill="#f59500"/>
<rect x="453" y="562" width="1" height="16" fill="#f59500"/>
<rect x="464" y="553" width="1" height="9" fill="#26bfdc"/>
<rect x="469" y="542" width="1" height="20" fill="#26bfdc"/>
<rect x="475" y="536" width="1" height="26" fill="#26bfdc"/>
<rect x="480" y="532" width="1" height="30" fill="#26bfdc"/>
<rect x="486" y="529" width="1" height="33" fill="#26bfdc"/>
<rect x="491" y="535" width="1" height="27" fill="#26bfdc"/>
<rect x="497" y="543" width="1" height="19" fill="#26bfdc"/>
<rect x="502" y="548" width="1" height="14" fill="#26bfdc"/>
<rect x="508" y="555" width="1" height="7" fill="#26bfdc"/>
<rect x="513" y="557" width="1" height="5" fill="#26bfdc"/>
<rect x="519" y="559" width="1" height="3" fill="#26bfdc"/>
<rect x="530" y="562" width="1" height="10" fill="#f59500"/>
<rect x="535" y="562" width="1" height="16" fill="#f59500"/>
<rect x="541" y="562" width="1" height="17" fill="#f59500"/>
<rect x="546" y="562" width="1" height="15" fill="#f59500"/>
<rect x="552" y="562" width="1" height="18" fill="#f59500"/>
<rect x="557" y="562" width="1" height="16" fill="#f59500"/>
<rect x="563" y="562" width="1" height="15" fill="#f59500"/>
<rect x="568" y="562" width="1" height="12" fill="#f59500"/>
<rect x="574" y="562" width="1" height="9" fill="#f59500"/>
<rect x="591" y="556" width="1" height="6" fill="#26bfdc"/>
<rect x="596" y="548" width="1" height="14" fill="#26bfdc"/>
<rect x="602" y="547" width="1" height="15" fill="#26bfdc"/>
<rect x="607" y="549" width="1" height="13" fill="#26bfdc"/>
<rect x="613" y="548" width="1" height="14" fill="#26bfdc"/>
<rect x="618" y="546" width="1" height="16" fill="#26bfdc"/>
<rect x="624" y="544" width="1" height="18" fill="#26bfdc"/>
<rect x="629" y="543" width="1" height="19" fill="#26bfdc"/>
<rect x="635" y="545" width="1" height="17" fill="#26bfdc"/>
<rect x="640" y="551" width="1" height="11" fill="#26bfdc"/>
<rect x="646" y="558" width="1" height="4" fill="#26bfdc"/>
<rect x="657" y="562" width="1" height="4" fill="#f59500"/>
<rect x="662" y="562" width="1" height="9" fill="#f59500"/>
<rect x="668" y="562" width="1" height="12" fill="#f59500"/>
<rect x="673" y="562" width="1" height="13" fill="#f59500"/>
<rect x="679" y="562" width="1" height="13" fill="#f59500"/>
<rect x="684" y="562" width="1" height="12" fill="#f59500"/>
<rect x="690" y="562" width="1" height="11" fill="#f59500"/>
<rect x="695" y="562" width="1" height="10" fill="#f59500"/>
<rect x="701" y="562" width="1" height="6" fill="#f59500"/>
<rect x="712" y="551" width="1" height="11" fill="#26bfdc"/>
<rect x="717" y="547" width="1" height="15" fill="#26bfdc"/>
<rect x="723" y="537" width="1" height="25" fill="#26bfdc"/>
<rect x="728" y="527" width="1" height="35" fill="#26bfdc"/>
<rect x="734" y="515" width="1" height="47" fill="#26bfdc"/>
<rect x="739" y="506" width="1" height="56" fill="#26bfdc"/>
</g>
<circle cx="23.3" cy="562.2" r="3.0" fill="#ee5352"/>
<circle cx="28.8" cy="562.2" r="3.0" fill="#ee5352"/>
<circle cx="34.3" cy="562.2" r="3.0" fill="#ee5352"/>
<circle cx="39.8" cy="562.2" r="3.0" fill="#ee5352"/>
<circle cx="45.3" cy="562.2" r="3.0" fill="#65bb6a"/>
<circle cx="50.8" cy="562.2" r="3.0" fill="#ee5352"/>
<circle cx="56.3" cy="562.2" r="3.0" fill="#ee5352"/>
<circle cx="61.8" cy="562.2" r="3.0" fill="#65bb6a"/>
<circle cx="67.4" cy="562.2" r="3.0" fill="#65bb6a"/>
<circle cx="72.9" cy="562.2" r="3.0" fill="#65bb6a"/>
<circle cx="78.4" cy="562.2" r="3.0" fill="#65bb6a"/>
<circle cx="83.9" cy="562.2" r="3.0" fill="#65bb6a"/>
<circle cx="89.4" cy="562.2" r="3.0" fill="#65bb6a"/>
<circle cx="94.9" cy="562.2" r="3.0" fill="#65bb6a"/>
<circle cx="100.4" cy="562.2" r="3.0" fill="#65bb6a"/>
<circle cx="105.9" cy="562.2" r="3.0" fill="#65bb6a"/>
<circle cx="111.4" cy="562.2" r="3.0" fill="#65bb6a"/>
<circle cx="116.9" cy="562.2" r="3.0" fill="#65bb6a"/>
<circle cx="122.4" cy="562.2" r="3.0" fill="#65bb6a"/>
<circle cx="127.9" cy="562.2" r="3.0" fill="#65bb6a"/>
<circle cx="133.4" cy="562.2" r="3.0" fill="#65bb6a"/>
<circle cx="138.9" cy="562.2" r="3.0" fill="#65bb6a"/>
<circle cx="144.5" cy="562.2" r="3.0" fill="#65bb6a"/>
<circle cx="150.0" cy="562.2" r="3.0" fill="#65bb6a"/>
<circle cx="155.5" cy="562.2" r="3.0" fill="#65bb6a"/>
<circle cx="161.0" cy="562.2" r="3.0" fill="#65bb6a"/>
<circle cx="166.5" cy="562.2" r="3.0" fill="#65bb6a"/>
<circle cx="172.0" cy="562.2" r="3.0" fill="#65bb6a"/>
<circle cx="177.5" cy="562.2" r="3.0" fill="#65bb6a"/>
<circle cx="183.0" cy="562.2" r="3.0" fill="#65bb6a"/>
<circle cx="188.5" cy="562.2" r="3.0" fill="#65bb6a"/>
<circle cx="194.0" cy="562.2" r="3.0" fill="#65bb6a"/>
<circle cx="199.5" cy="562.2" r="3.0" fill="#65bb6a"/>
<circle cx="205.0" cy="562.2" r="3.0" fill="#65bb6a"/>
<circle cx="210.5" cy="562.2" r="3.0" fill="#65bb6a"/>
<circle cx="216.0" cy="562.2" r="3.0" fill="#65bb6a"/>
<circle cx="221.6" cy="562.2" r="3.0" fill="#65bb6a"/>
<circle cx="227.1" cy="562.2" r="3.0" fill="#65bb6a"/>
<circle cx="232.6" cy="562.2" r="3.0" fill="#65bb6a"/>
<circle cx="238.1" cy="562.2" r="3.0" fill="#65bb6a"/>
<circle cx="243.6" cy="562.2" r="3.0" fill="#ee5352"/>
<circle cx="249.1" cy="562.2" r="3.0" fill="#ee5352"/>
<circle cx="254.6" cy="562.2" r="3.0" fill="#ee5352"/>
<circle cx="260.1" cy="562.2" r="3.0" fill="#ee5352"/>
<circle cx="265.6" cy="562.2" r="3.0" fill="#ee5352"/>
<circle cx="271.1" cy="562.2" r="3.0" fill="#ee5352"/>
<circle cx="276.6" cy="562.2" r="3.0" fill="#ee5352"/>
<circle cx="282.1" cy="562.2" r="3.0" fill="#ee5352"/>
<circle cx="287.6" cy="562.2" r="3.0" fill="#ee5352"/>
<circle cx="293.1" cy="562.2" r="3.0" fill="#ee5352"/>
<circle cx="298.6" cy="562.2" r="3.0" fill="#ee5352"/>
<circle cx="304.2" cy="562.2" r="3.0" fill="#ee5352"/>
<circle cx="309.7" cy="562.2" r="3.0" fill="#ee5352"/>
<circle cx="315.2" cy="562.2" r="3.0" fill="#ee5352"/>
<circle cx="320.7" cy="562.2" r="3.0" fill="#ee5352"/>
<circle cx="326.2" cy="562.2" r="3.0" fill="#ee5352"/>
<circle cx="331.7" cy="562.2" r="3.0" fill="#ee5352"/>
<circle cx="337.2" cy="562.2" r="3.0" fill="#ee5352"/>
<circle cx="342.7" cy="562.2" r="3.0" fill="#ee5352"/>
<circle cx="348.2" cy="562.2" r="3.0" fill="#ee5352"/>
<circle cx="353.7" cy="562.2" r="3.0" fill="#65bb6a"/>
<circle cx="359.2" cy="562.2" r="3.0" fill="#65bb6a"/>
<circle cx="364.7" cy="562.2" r="3.0" fill="#65bb6a"/>
<circle cx="370.2" cy="562.2" r="3.0" fill="#65bb6a"/>
<circle cx="375.7" cy="562.2" r="3.0" fill="#65bb6a"/>
<circle cx="381.3" cy="562.2" r="3.0" fill="#65bb6a"/>
<circle cx="386.8" cy="562.2" r="3.0" fill="#65bb6a"/>
<circle cx="392.3" cy="562.2" r="3.0" fill="#65bb6a"/>
<circle cx="397.8" cy="562.2" r="3.0" fill="#65bb6a"/>
<circle cx="403.3" cy="562.2" r="3.0" fill="#65bb6a"/>
<circle cx="408.8" cy="562.2" r="3.0" fill="#65bb6a"/>
<circle cx="414.3" cy="562.2" r="3.0" fill="#65bb6a"/>
<circle cx="419.8" cy="562.2" r="3.0" fill="#65bb6a"/>
<circle cx="425.3" cy="562.2" r="3.0" fill="#65bb6a"/>
<circle cx="430.8" cy="562.2" r="3.0" fill="#65bb6a"/>
<circle cx="436.3" cy="562.2" r="3.0" fill="#65bb6a"/>
<circle cx="441.8" cy="562.2" r="3.0" fill="#65bb6a"/>
<circle cx="447.3" cy="562.2" r="3.0" fill="#65bb6a"/>
<circle cx="452.8" cy="562.2" r="3.0" fill="#ee5352"/>
<circle cx="458.4" cy="562.2" r="3.0" fill="#ee5352"/>
<circle cx="463.9" cy="562.2" r="3.0" fill="#ee5352"/>
<circle cx="469.4" cy="562.2" r="3.0" fill="#ee5352"/>
<circle cx="474.9" cy="562.2" r="3.0" fill="#ee5352"/>
<circle cx="480.4" cy="562.2" r="3.0" fill="#ee5352"/>
<circle cx="485.9" cy="562.2" r="3.0" fill="#ee5352"/>
<circle cx="491.4" cy="562.2" r="3.0" fill="#ee5352"/>
<circle cx="496.9" cy="562.2" r="3.0" fill="#ee5352"/>
<circle cx="502.4" cy="562.2" r="3.0" fill="#ee5352"/>
<circle cx="507.9" cy="562.2" r="3.0" fill="#ee5352"/>
<circle cx="513.4" cy="562.2" r="3.0" fill="#ee5352"/>
<circle cx="518.9" cy="562.2" r="3.0" fill="#65bb6a"/>
<circle cx="524.4" cy="562.2" r="3.0" fill="#65bb6a"/>
<circle cx="529.9" cy="562.2" r="3.0" fill="#65bb6a"/>
<circle cx="535.5" cy="562.2" r="3.0" fill="#65bb6a"/>
<circle cx="541.0" cy="562.2" r="3.0" fill="#65bb6a"/>
<circle cx="546.5" cy="562.2" r="3.0" fill="#65bb6a"/>
<circle cx="552.0" cy="562.2" r="3.0" fill="#65bb6a"/>
<circle cx="557.5" cy="562.2" r="3.0" fill="#65bb6a"/>
<circle cx="563.0" cy="562.2" r="3.0" fill="#65bb6a"/>
<circle cx="568.5" cy="562.2" r="3.0" fill="#65bb6a"/>
<circle cx="574.0" cy="562.2" r="3.0" fill="#65bb6a"/>
<circle cx="579.5" cy="562.2" r="3.0" fill="#ee5352"/>
<circle cx="585.0" cy="562.2" r="3.0" fill="#ee5352"/>
<circle cx="590.5" cy="562.2" r="3.0" fill="#ee5352"/>
<circle cx="596.0" cy="562.2" r="3.0" fill="#ee5352"/>
<circle cx="601.5" cy="562.2" r="3.0" fill="#ee5352"/>
<circle cx="607.0" cy="562.2" r="3.0" fill="#ee5352"/>
<circle cx="612.5" cy="562.2" r="3.0" fill="#ee5352"/>
<circle cx="618.1" cy="562.2" r="3.0" fill="#ee5352"/>
<circle cx="623.6" cy="562.2" r="3.0" fill="#ee5352"/>
<circle cx="629.1" cy="562.2" r="3.0" fill="#ee5352"/>
<circle cx="634.6" cy="562.2" r="3.0" fill="#ee5352"/>
<circle cx="640.1" cy="562.2" r="3.0" fill="#ee5352"/>
<circle cx="645.6" cy="562.2" r="3.0" fill="#ee5352"/>
<circle cx="651.1" cy="562.2" r="3.0" fill="#ee5352"/>
<circle cx="656.6" cy="562.2" r="3.0" fill="#ee5352"/>
<circle cx="662.1" cy="562.2" r="3.0" fill="#ee5352"/>
<circle cx="667.6" cy="562.2" r="3.0" fill="#ee5352"/>
<circle cx="673.1" cy="562.2" r="3.0" fill="#ee5352"/>
<circle cx="678.6" cy="562.2" r="3.0" fill="#ee5352"/>
<circle cx="684.1" cy="562.2" r="3.0" fill="#ee5352"/>
<circle cx="689.6" cy="562.2" r="3.0" fill="#ee5352"/>
<circle cx="695.2" cy="562.2" r="3.0" fill="#ee5352"/>
<circle cx="700.7" cy="562.2" r="3.0" fill="#ee5352"/>
<circle cx="706.2" cy="562.2" r="3.0" fill="#65bb6a"/>
<circle cx="711.7" cy="562.2" r="3.0" fill="#65bb6a"/>
<circle cx="717.2" cy="562.2" r="3.0" fill="#65bb6a"/>
<circle cx="722.7" cy="562.2" r="3.0" fill="#65bb6a"/>
<circle cx="728.2" cy="562.2" r="3.0" fill="#65bb6a"/>
<circle cx="733.7" cy="562.2" r="3.0" fill="#65bb6a"/>
<circle cx="739.2" cy="562.2" r="3.0" fill="#65bb6a"/>
<g shape-rendering="crispEdges" fill="#8c8c8c">
<rect x="21" y="664" width="964" height="1"/>
<rect x="110" y="664" width="1" height="10"/>
<rect x="215" y="664" width="1" height="10"/>
<rect x="325" y="664" width="1" height="10"/>
<rect x="430" y="664" width="1" height="10"/>
<rect x="540" y="664" width="1" height="10"/>
<rect x="644" y="664" width="1" height="10"/>
<rect x="744" y="664" width="1" height="10"/>
<rect x="854" y="664" width="1" height="10"/>
<rect x="958" y="664" width="1" height="10"/>
</g>
<g fill="none" stroke="#48a698" stroke-width="0.65">
<circle cx="26.9" cy="29.8" r="2.0"/>
<circle cx="38.6" cy="27.5" r="2.3"/>
<circle cx="33.9" cy="31.9" r="2.0"/>
<circle cx="22.5" cy="36.5" r="2.3"/>
<circle cx="30.0" cy="37.1" r="1.8"/>
<circle cx="35.2" cy="38.9" r="2.0"/>
<circle cx="42.2" cy="41.8" r="2.3"/>
<circle cx="26.9" cy="44.4" r="2.2"/>
<path d="M27.6,31.7 L29.4,35.4 M29.2,38.8 L27.7,42.3"/>
</g>
</svg>
<div class="t" id="trend">Trend</div><div class="t" id="spider">Spider</div>
<div class="t" id="date">Jul 12, 2025 8:38AM EDT</div>
<div class="t" id="title">MRNA, Daily, Hollow Candles chart (Logarithmic scale)</div>
<div class="pl" style="top:93.2px">76.33</div>
<div class="pl" style="top:145.3px">63.72</div>
<div class="pl" style="top:197.4px">53.20</div>
<div class="pl" style="top:249.5px">44.42</div>
<div class="pl" style="top:301.8px">37.08</div>
<div class="pl" style="top:354.0px">30.96</div>
<div class="pl" style="top:406.1px">25.84</div>
<div class="pl" style="top:458.2px">21.58</div>
<div class="il" style="top:487.6px">5.000</div>
<div class="il" style="top:522.4px">2.500</div>
<div class="il" style="top:556.4px">0.000</div>
<div class="il" style="top:590.3px">−2.500</div>
<div class="il" style="top:624.4px">−5.000</div>
<div class="xl" style="left:70.9px">27. Jan</div>
<div class="xl" style="left:176.1px">24. Feb</div>
<div class="xl" style="left:286.1px">24. Mar</div>
<div class="xl" style="left:390.9px">21. Apr</div>
<div class="xl" style="left:500.9px">19. May</div>
<div class="xl" style="left:604.9px">16. Jun</div>
<div class="xl" style="left:704.9px">14. Jul</div>
<div class="xl" style="left:814.7px">11. Aug</div>
<div class="xl" style="left:919.0px">8. Sep</div>
<div id="last">33.64</div>
<div class="t" id="tz">Your local time zone</div>
<div class="t" id="copy">©2025 TrendSpider</div>
</body></html>
